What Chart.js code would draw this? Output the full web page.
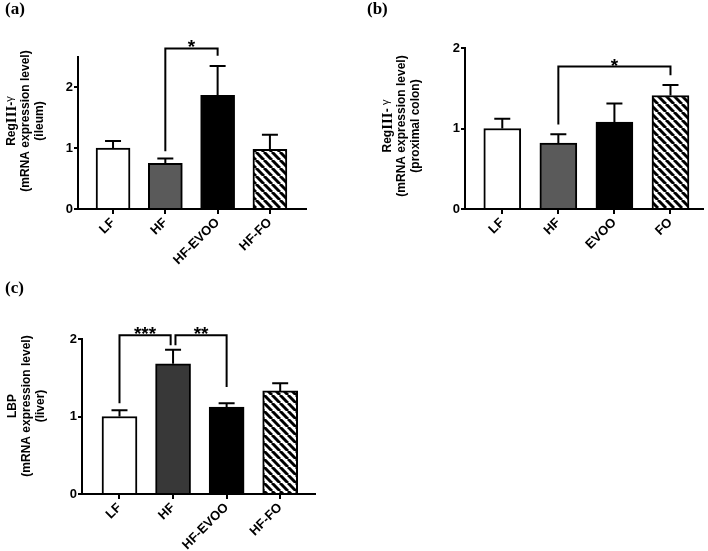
<!DOCTYPE html>
<html lang="en">
<head>
<meta charset="UTF-8">
<title>RegIII-γ and LBP mRNA expression</title>
<script src="https://cdn.jsdelivr.net/npm/chart.js"></script>
<style>
    body { margin: 0; background: #fff; }
    #wrap { position: relative; width: 708px; height: 551px; overflow: hidden; }
    canvas { position: absolute; }
    .tag { position: absolute; font: bold 17px "Liberation Serif", "Times New Roman", serif; color: #000; }
</style>
</head>
<body>
<div id="wrap">
    <canvas id="chartA" width="354" height="275" style="left:0;top:0"></canvas>
    <canvas id="chartB" width="354" height="275" style="left:354px;top:0"></canvas>
    <canvas id="chartC" width="354" height="276" style="left:0;top:275px"></canvas>
    <div class="tag" style="left:5px;top:-1px">(a)</div>
    <div class="tag" style="left:367px;top:-1px">(b)</div>
    <div class="tag" style="left:5px;top:278px">(c)</div>
</div>

<script>
// ---- data ----
const catsA = ['LF', 'HF', 'HF-EVOO', 'HF-FO'];
const meanA = [1.00, 0.75, 1.87, 0.98];
const semA  = [0.12, 0.08, 0.48, 0.24];
const ticksA = [0, 1, 2];
const titleA = ['RegIII-γ', '(mRNA expression level)', '(ileum)'];
// bracket: from group, to group, bar height, drop at left end, drop at right end, label
const sigA = [[1, 2, 2.64, 0.95, 2.52, '*']];

const catsB = ['LF', 'HF', 'EVOO', 'FO'];
const meanB = [1.00, 0.82, 1.08, 1.41];
const semB  = [0.12, 0.11, 0.23, 0.13];
const ticksB = [0, 1, 2];
const titleB = ['RegIII- γ', '(mRNA expression level)', '(proximal colon)'];
const sigB = [[1, 3, 1.77, 1.05, 1.66, '*']];

const catsC = ['LF', 'HF', 'HF-EVOO', 'HF-FO'];
const meanC = [1.00, 1.68, 1.12, 1.33];
const semC  = [0.08, 0.18, 0.05, 0.10];
const ticksC = [0, 1, 2];
const titleC = ['LBP', '(mRNA expression level)', '(liver)'];
const sigC = [[0, 0.955, 2.05, 1.17, 1.92, '***'], [1.045, 2, 2.05, 1.92, 1.38, '**']];

const SANS = '"Liberation Sans", Arial, sans-serif';
const SERIF = '"Liberation Serif", "Times New Roman", serif';

function makeHatch() {
    const c = document.createElement('canvas');
    c.width = 8; c.height = 8;
    const g = c.getContext('2d');
    g.fillStyle = '#fff';
    g.fillRect(0, 0, 8, 8);
    g.strokeStyle = '#000';
    g.lineWidth = 3;
    for (const k of [-8, 0, 8]) {
        g.beginPath();
        g.moveTo(k, 0);
        g.lineTo(k + 8, 8);
        g.stroke();
    }
    return g.createPattern(c, 'repeat');
}

// split title line so "III" comes out in serif and γ small
function segments(text) {
    return text.split(/(III|γ)/).filter(Boolean).map(t => {
        if (t === 'III') return { t, font: 'bold 15px ' + SERIF, dy: 0 };
        if (t === 'γ') return { t, font: '11px ' + SANS, dy: -2 };
        return { t, font: 'bold 12px ' + SANS, dy: 0 };
    });
}

function extras(cfg) {
    return {
        id: 'extras',
        afterDatasetsDraw(chart) {
            const { ctx, scales: { x, y } } = chart;
            ctx.save();
            ctx.strokeStyle = '#000';
            ctx.lineWidth = 2;
            // error bars (upper only)
            cfg.means.forEach((m, i) => {
                const px = x.getPixelForValue(i);
                const base = y.getPixelForValue(m);
                const top = y.getPixelForValue(m + cfg.sems[i]);
                ctx.beginPath();
                ctx.moveTo(px, base);
                ctx.lineTo(px, top);
                ctx.moveTo(px - 8, top);
                ctx.lineTo(px + 8, top);
                ctx.stroke();
            });
            // significance brackets
            ctx.fillStyle = '#000';
            ctx.font = 'bold 19px ' + SANS;
            ctx.textAlign = 'center';
            ctx.textBaseline = 'alphabetic';
            cfg.sig.forEach(([a, b, h, d1, d2, lab]) => {
                const x1 = x.getPixelForValue(a), x2 = x.getPixelForValue(b);
                const yy = y.getPixelForValue(h);
                ctx.beginPath();
                ctx.moveTo(x1, y.getPixelForValue(d1));
                ctx.lineTo(x1, yy);
                ctx.lineTo(x2, yy);
                ctx.lineTo(x2, y.getPixelForValue(d2));
                ctx.stroke();
                ctx.fillText(lab, (x1 + x2) / 2, yy + 5);
            });
            ctx.restore();
        },
        afterDraw(chart) {
            const ctx = chart.ctx;
            ctx.save();
            ctx.fillStyle = '#000';
            ctx.textBaseline = 'middle';
            ctx.textAlign = 'left';
            cfg.title.forEach((line, li) => {
                const segs = segments(line);
                let total = 0;
                segs.forEach(s => { ctx.font = s.font; s.w = ctx.measureText(s.t).width; total += s.w; });
                ctx.save();
                ctx.translate(cfg.titleX[li], cfg.titleY);
                ctx.rotate(-Math.PI / 2);
                let cx = -total / 2;
                segs.forEach(s => {
                    ctx.font = s.font;
                    ctx.fillText(s.t, cx, s.dy);
                    cx += s.w;
                });
                ctx.restore();
            });
            ctx.restore();
        }
    };
}

function buildChart(id, cfg) {
    new Chart(document.getElementById(id), {
        type: 'bar',
        data: {
            datasets: [{
                data: cfg.means.map((m, i) => ({ x: i, y: m })),
                backgroundColor: cfg.fills,
                borderColor: '#000',
                borderWidth: 2,
                borderSkipped: 'start',
                barThickness: cfg.barW
            }]
        },
        options: {
            responsive: false,
            animation: false,
            layout: { padding: { left: 0, top: cfg.top, right: cfg.padRight, bottom: 0 } },
            plugins: { legend: { display: false }, tooltip: { enabled: false } },
            scales: {
                x: {
                    type: 'linear',
                    min: cfg.xMin,
                    max: cfg.xMax,
                    offset: false,
                    afterBuildTicks: s => { s.ticks = cfg.cats.map((c, i) => ({ value: i })); },
                    afterFit: s => { s.height = cfg.xH; },
                    ticks: {
                        callback: v => cfg.cats[v],
                        minRotation: 45,
                        maxRotation: 45,
                        autoSkip: false,
                        padding: 1,
                        color: '#000',
                        font: { family: SANS, weight: 'bold', size: 13 }
                    },
                    grid: { offset: false, drawOnChartArea: false, drawTicks: true, tickLength: 5, color: '#000', lineWidth: 2 },
                    border: { color: '#000', width: 2 }
                },
                y: {
                    min: 0,
                    max: cfg.yMax,
                    afterBuildTicks: s => { s.ticks = cfg.yTicks.map(v => ({ value: v })); },
                    afterFit: s => { s.width = cfg.left; },
                    ticks: {
                        padding: 1,
                        color: '#000',
                        font: { family: SANS, weight: 'bold', size: 13 }
                    },
                    grid: { drawOnChartArea: false, drawTicks: true, tickLength: 4, color: '#000', lineWidth: 2 },
                    border: { color: '#000', width: 2 }
                }
            }
        },
        plugins: [extras(cfg)]
    });
}

const hatch = makeHatch();

buildChart('chartA', {
    cats: catsA, means: meanA, sems: semA, yTicks: ticksA, sig: sigA, title: titleA,
    fills: ['#ffffff', '#5a5a5a', '#000000', hatch],
    yMax: 2.5, xMin: -0.67, xMax: 3.69, barW: 34,
    left: 78, top: 57, padRight: 48, xH: 66,
    titleX: [12, 26, 40], titleY: 121
});

buildChart('chartB', {
    cats: catsB, means: meanB, sems: semB, yTicks: ticksB, sig: sigB, title: titleB,
    fills: ['#ffffff', '#5a5a5a', '#000000', hatch],
    yMax: 2, xMin: -0.665, xMax: 3.58, barW: 37,
    left: 111, top: 48, padRight: 5, xH: 66,
    titleX: [34, 48, 62], titleY: 126
});

buildChart('chartC', {
    cats: catsC, means: meanC, sems: semC, yTicks: ticksC, sig: sigC, title: titleC,
    fills: ['#ffffff', '#383838', '#000000', hatch],
    yMax: 2, xMin: -0.70, xMax: 3.65, barW: 35,
    left: 82, top: 64, padRight: 39, xH: 57,
    titleX: [13, 27, 41], titleY: 131
});
</script>
</body>
</html>
